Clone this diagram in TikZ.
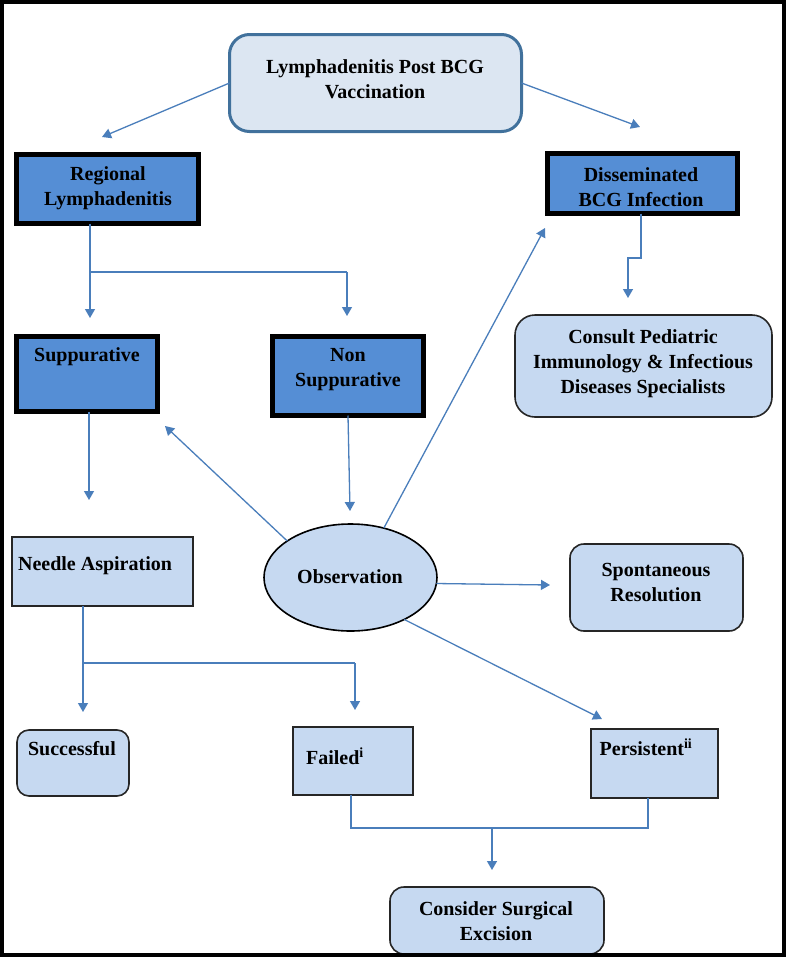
\documentclass[tikz,border=0pt]{standalone}
\usepackage{fontspec}
\setmainfont{Liberation Serif}
\usetikzlibrary{arrows.meta,shapes.geometric,calc}
\definecolor{arrowc}{HTML}{4A7EBB}
\definecolor{topfill}{HTML}{DCE6F2}
\definecolor{topdraw}{HTML}{41719C}
\definecolor{darkfill}{HTML}{558ED5}
\definecolor{lightfill}{HTML}{C6D9F1}
\begin{document}
\begin{tikzpicture}[x=1pt,y=-1pt,
 txt/.style={font=\bfseries\fontsize{20}{25}\selectfont, align=center, inner sep=0pt},
 darkbox/.style={draw=black, line width=5pt, fill=darkfill, inner sep=0pt, outer sep=0pt},
 lightbox/.style={draw=black!85, line width=1.6pt, fill=lightfill, inner sep=0pt, outer sep=0pt},
 roundbox/.style={lightbox, rounded corners=14pt},
 conn/.style={draw=arrowc, line width=1.3pt},
 arr/.style={conn, -{Triangle[width=10pt,length=9pt]}},
]
\useasboundingbox (0,0) rectangle (787,959);
\fill[white] (0,0) rectangle (787,959);

% boxes
\node[draw=topdraw, line width=3pt, fill=topfill, rounded corners=20pt, minimum width=292pt, minimum height=97pt, inner sep=0pt, outer sep=0pt] (top) at (375.5,83) {};
\node[darkbox, minimum width=182pt, minimum height=69pt] (reg) at (107.5,189) {};
\node[darkbox, minimum width=190pt, minimum height=60pt] (dis) at (642.5,183.5) {};
\node[roundbox, rounded corners=20pt, minimum width=257pt, minimum height=102pt] (con) at (643.5,366) {};
\node[darkbox, minimum width=141pt, minimum height=75pt] (sup) at (87,374) {};
\node[darkbox, minimum width=151pt, minimum height=79pt] (non) at (348,376) {};
\node[lightbox, minimum width=181pt, minimum height=69pt] (nee) at (102.5,571.5) {};
\node[ellipse, draw=black, line width=1.6pt, fill=lightfill, minimum width=173pt, minimum height=107pt, inner sep=0pt, outer sep=0pt] (obs) at (350.5,577.5) {};
\node[roundbox, minimum width=173pt, minimum height=87pt] (spo) at (656.5,587.5) {};
\node[roundbox, rounded corners=12pt, minimum width=112pt, minimum height=66pt] (suc) at (73,763) {};
\node[lightbox, minimum width=120pt, minimum height=68pt] (fai) at (353,761) {};
\node[lightbox, minimum width=127pt, minimum height=69pt] (per) at (654.5,763.5) {};
\node[roundbox, minimum width=214pt, minimum height=67pt] (exc) at (497,920.5) {};

% texts
\node[txt] (ttop) at (375,79) {Lymphadenitis Post BCG\\Vaccination};
\node[txt] (treg) at (108,188) {Regional\\Lymphadenitis};
\node[txt] (tdis) at (641,187) {Disseminated\\BCG Infection};
\node[txt] (tcon) at (643,364) {Consult Pediatric\\Immunology \& Infectious\\Diseases Specialists};
\node[txt] (tsup) at (87,357) {Suppurative};
\node[txt] (tnon) at (348,370) {Non\\Suppurative};
\node[txt] (tnee) at (95,566) {Needle Aspiration};
\node[txt] (tobs) at (350,577) {Observation};
\node[txt] (tspo) at (656,582) {Spontaneous\\Resolution};
\node[txt] (tsuc) at (72,749) {Successful};
\node[txt] (tfai) at (335,756) {Failed\textsuperscript{i}};
\node[txt] (tper) at (646,747) {Persistent\textsuperscript{ii}};
\node[txt] (texc) at (496,921) {Consider Surgical\\Excision};

% free ends and junctions
\coordinate (c1) at (102,137);
\coordinate (c2) at (640,127);
\coordinate (j1) at (90,272);
\coordinate (j2) at (347,272);
\coordinate (c3) at (90,318);
\coordinate (c4) at (347,316);
\coordinate (d1) at (641,258);
\coordinate (d2) at (628,258);
\coordinate (c5) at (628,298);
\coordinate (c6) at (89,500);
\coordinate (c7) at (350,511);
\coordinate (c8) at (165,426);
\coordinate (c9) at (545,228);
\coordinate (c10) at (550,585);
\coordinate (c11) at (602,719);
\coordinate (n1) at (83,663);
\coordinate (n2) at (355,663);
\coordinate (c12) at (355,710);
\coordinate (c13) at (83,712);
\coordinate (f1) at (351,828);
\coordinate (f2) at (648,828);
\coordinate (m1) at (492,828);
\coordinate (c14) at (492,870);

% connectors
\draw[arr] (top.west) -- (c1);
\draw[arr] (top.east) -- (c2);
\draw[conn] (reg.south -| j1) -- (j1) -- (j2);
\draw[arr] (j1) -- (c3);
\draw[arr] (j2) -- (c4);
\draw[arr] (dis.south -| d1) -- (d1) -- (d2) -- (c5);
\draw[arr] (sup.south -| c6) -- (c6);
\draw[arr] (non.south) -- (c7);
\draw[arr] (obs.150) -- (c8);
\draw[arr] (obs.56) -- (c9);
\draw[arr] (obs.-4) -- (c10);
\draw[arr] (obs.-38) -- (c11);
\draw[conn] (nee.south -| n1) -- (n1) -- (n2);
\draw[arr] (n1) -- (c13);
\draw[arr] (n2) -- (c12);
\draw[conn] (fai.south -| f1) -- (f1) -- (f2) -- (per.south -| f2);
\draw[arr] (m1) -- (c14);

% frame
\draw[line width=4pt] (1.5,2) rectangle (784,955);
\end{tikzpicture}
\end{document}
